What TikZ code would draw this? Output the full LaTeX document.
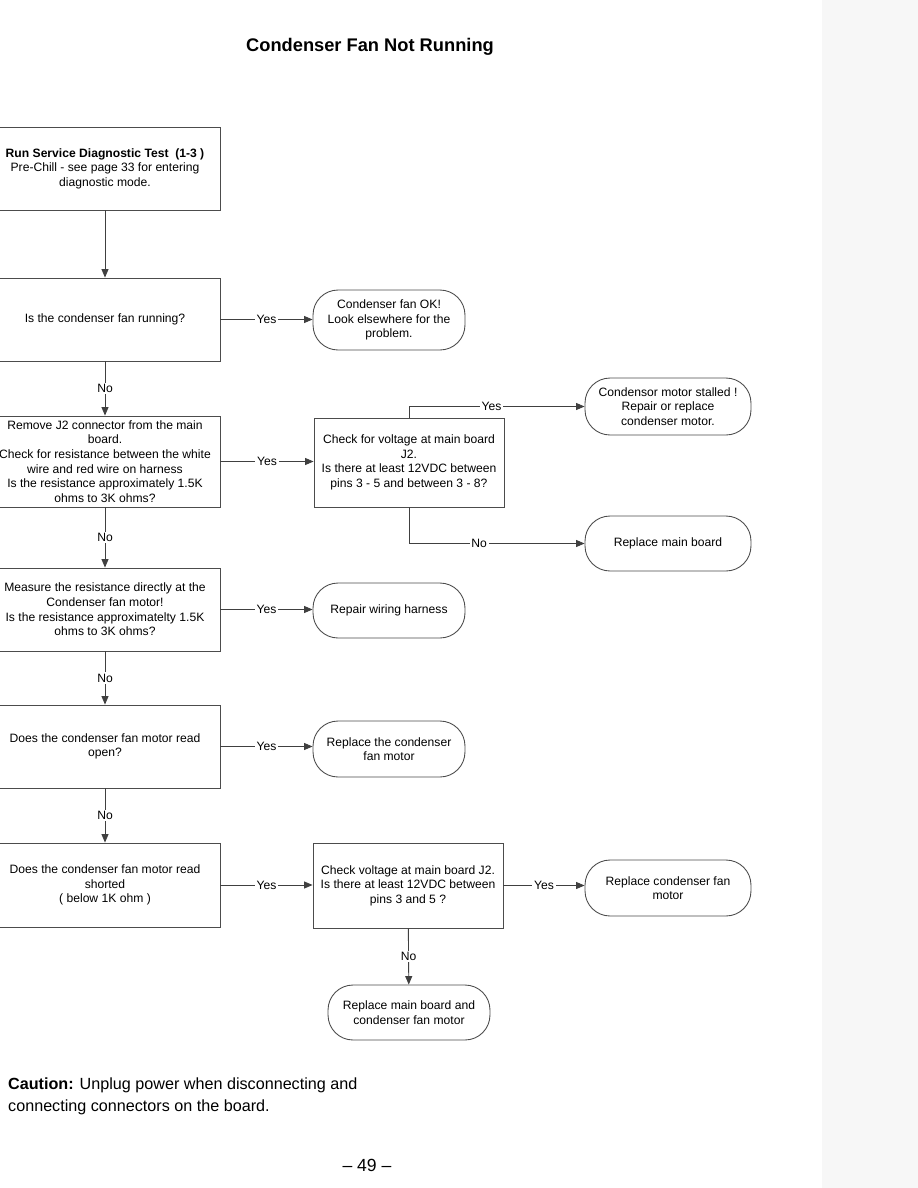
\documentclass[tikz,border=0pt]{standalone}
\usepackage{fontspec}
\setmainfont{Liberation Sans}
\usetikzlibrary{positioning, arrows.meta}

\begin{document}
\begin{tikzpicture}[x=0.02cm, y=-0.02cm, >={Triangle[length=1.7mm,width=1.4mm]},
    every node/.style={font=\fontsize{6.9}{8.3}\selectfont, align=center},
    question/.style={draw=black!70, line width=0.5pt, fill=white, inner sep=0pt},
    answer/.style={draw=black!70, line width=0.5pt, fill=white, rounded corners=0.5cm, inner sep=0pt},
    flow/.style={draw=black!75, line width=0.5pt, ->},
    tag/.style={fill=white, inner sep=1pt}]

  \useasboundingbox (0,0) rectangle (918,1188);
  \clip (0,0) rectangle (918,1188);
  \fill[black!3] (822,0) rectangle (918,1188);

  \node[font=\fontsize{10.4}{12}\selectfont\bfseries] (title) at (370,47) {Condenser Fan Not Running};

  \node[question, minimum width=4.6cm, minimum height=1.66cm] (run) at (105,168.5)
    {\textbf{Run Service Diagnostic Test\ \ (1-3 )}\\Pre-Chill - see page 33 for entering\\diagnostic mode.};
  \node[question, minimum width=4.6cm, minimum height=1.66cm] (running) at (105,319.5)
    {Is the condenser fan running?};
  \node[question, minimum width=4.6cm, minimum height=1.82cm] (harness) at (105,461.5)
    {Remove J2 connector from the main\\board.\\Check for resistance between the white\\wire and red wire on harness\\Is the resistance approximately 1.5K\\ohms to 3K ohms?};
  \node[question, minimum width=3.8cm, minimum height=1.78cm] (voltage) at (409,462.5)
    {Check for voltage at main board\\J2.\\Is there at least 12VDC between\\pins 3 - 5 and between 3 - 8?};
  \node[question, minimum width=4.6cm, minimum height=1.66cm] (motor) at (105,609.5)
    {Measure the resistance directly at the\\Condenser fan motor!\\Is the resistance approximatelty 1.5K\\ohms to 3K ohms?};
  \node[question, minimum width=4.6cm, minimum height=1.66cm] (open) at (105,746.5)
    {Does the condenser fan motor read\\open?};
  \node[question, minimum width=4.6cm, minimum height=1.68cm] (shorted) at (105,885)
    {Does the condenser fan motor read\\shorted\\( below 1K ohm )};
  \node[question, minimum width=3.8cm, minimum height=1.7cm] (pins) at (408,885.5)
    {Check voltage at main board J2.\\Is there at least 12VDC between\\pins 3 and 5 ?};

  \node[answer, minimum width=3.04cm, minimum height=1.2cm] (fanok) at (389,320)
    {Condenser fan OK!\\Look elsewhere for the\\problem.};
  \node[answer, minimum width=3.32cm, minimum height=1.14cm] (stalled) at (668,406.5)
    {Condensor motor stalled !\\Repair or replace\\condenser motor.};
  \node[answer, minimum width=3.32cm, minimum height=1.1cm] (newboard) at (668,543.5)
    {Replace main board};
  \node[answer, minimum width=3.04cm, minimum height=1.1cm] (wiring) at (389,610.5)
    {Repair wiring harness};
  \node[answer, minimum width=3.04cm, minimum height=1.12cm] (newmotor) at (389,749)
    {Replace the condenser\\fan motor};
  \node[answer, minimum width=3.32cm, minimum height=1.12cm] (fanmotor) at (668,888)
    {Replace condenser fan\\motor};
  \node[answer, minimum width=3.24cm, minimum height=1.1cm] (both) at (409,1012.5)
    {Replace main board and\\condenser fan motor};

  \draw[flow] (run) -- (running);
  \draw[flow] (running) -- node[tag] {No} (harness);
  \draw[flow] (harness) -- node[tag] {No} (motor);
  \draw[flow] (motor) -- node[tag] {No} (open);
  \draw[flow] (open) -- node[tag] {No} (shorted);
  \draw[flow] (pins) -- node[tag] {No} (both);

  \draw[flow] (running.east) -- node[tag] {Yes} (running.east -| fanok.west);
  \draw[flow] (harness.east) -- node[tag] {Yes} (harness.east -| voltage.west);
  \draw[flow] (motor.east) -- node[tag] {Yes} (motor.east -| wiring.west);
  \draw[flow] (open.east) -- node[tag] {Yes} (open.east -| newmotor.west);
  \draw[flow] (shorted.east) -- node[tag] {Yes} (shorted.east -| pins.west);
  \draw[flow] (pins.east) -- node[tag] {Yes} (pins.east -| fanmotor.west);
  \draw[flow] (voltage.north) |- node[tag, pos=0.735] {Yes} (stalled.west);
  \draw[flow] (voltage.south) |- node[tag, pos=0.7] {No} (newboard.west);

  \node[anchor=west, align=left, font=\fontsize{9.2}{12.5}\selectfont] (caution) at (2,1096)
    {\textbf{Caution:} Unplug power when disconnecting and\\connecting connectors on the board.};
  \node[font=\fontsize{10}{12}\selectfont] (page) at (367,1165) {\textendash\ 49 \textendash};
\end{tikzpicture}
\end{document}
